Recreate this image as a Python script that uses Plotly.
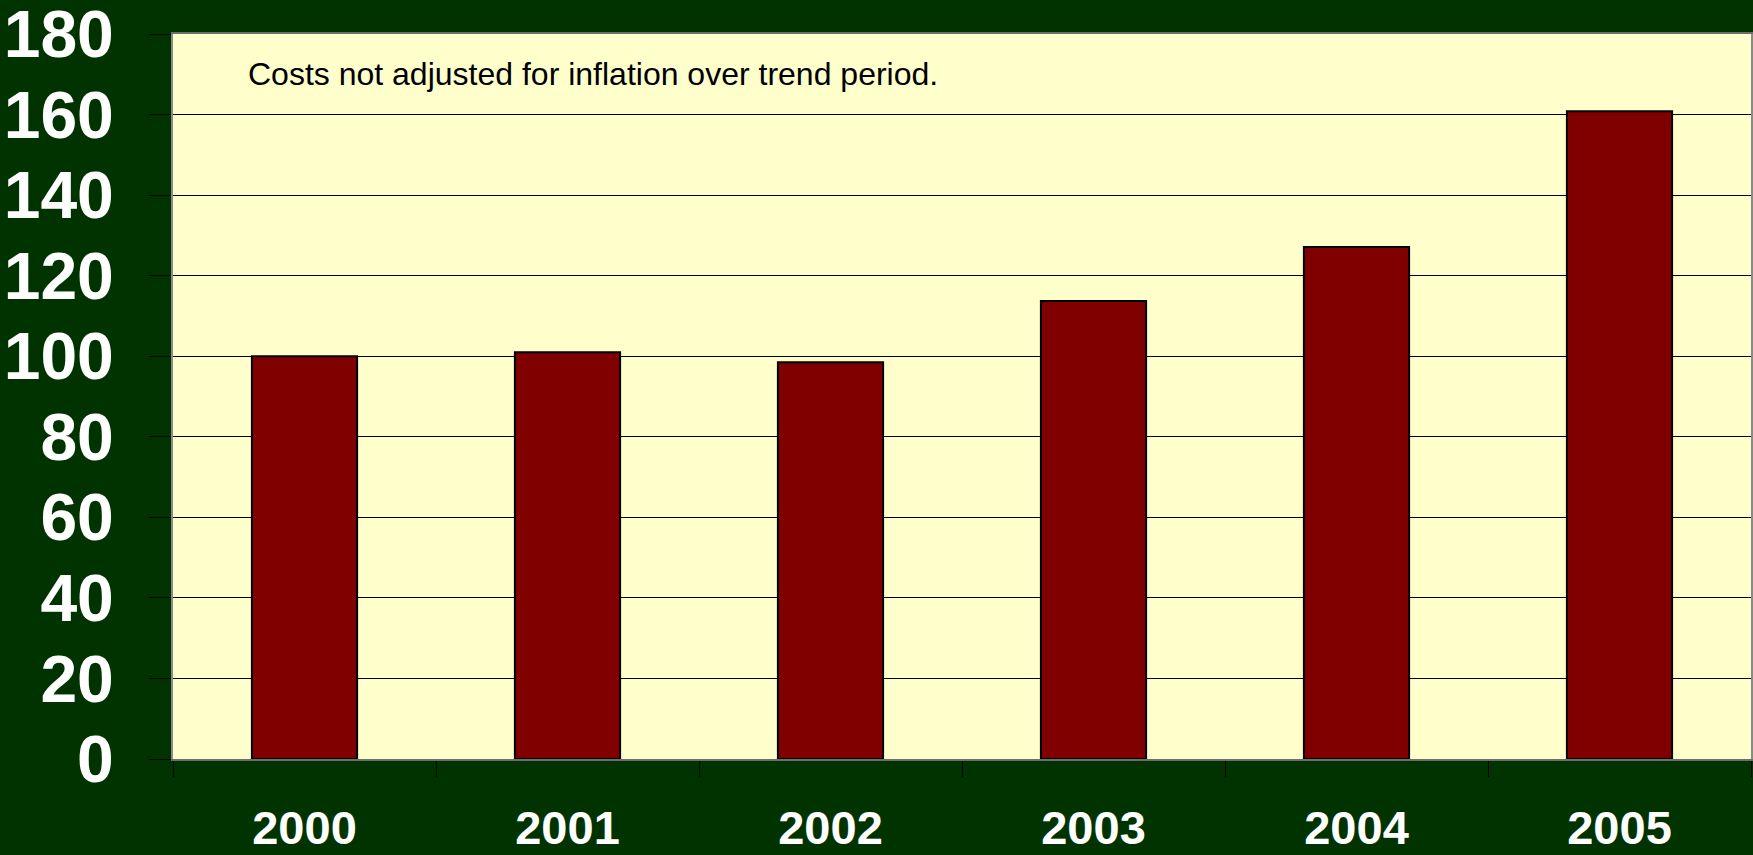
import plotly.graph_objects as go

years = ["2000", "2001", "2002", "2003", "2004", "2005"]
values = [100, 101, 98.5, 113.7, 127.1, 160.8]
y_ticks = [0, 20, 40, 60, 80, 100, 120, 140, 160, 180]
note = "Costs not adjusted for inflation over trend period."

fig = go.Figure()
fig.add_trace(go.Bar(
    x=years, y=values, width=0.4,
    marker=dict(color="#800000", line=dict(color="#000000", width=2)),
    hoverinfo="x+y",
))

fig.update_layout(
    width=1753, height=855,
    margin=dict(l=173, r=2, t=34, b=96),
    paper_bgcolor="#003300",
    plot_bgcolor="#FFFFCC",
    showlegend=False,
    font=dict(family="Liberation Sans, Arial, sans-serif"),
)
fig.update_xaxes(
    type="category",
    automargin=False,
    tickson="boundaries",
    ticks="outside", ticklen=16, tickwidth=1, tickcolor="#000000",
    tickfont=dict(size=47, color="white", family="Liberation Sans, Arial, sans-serif", weight="bold"),
    ticklabelstandoff=27,
    showline=True, linecolor="#6E6E6E", linewidth=2, mirror=True,
    showgrid=False,
)
fig.update_yaxes(
    range=[0, 180],
    automargin=False,
    tickvals=y_ticks,
    ticks="outside", ticklen=22, tickwidth=1, tickcolor="#000000",
    tickfont=dict(size=66, color="white", family="Liberation Sans, Arial, sans-serif", weight="bold"),
    ticklabelstandoff=22,
    ticklabeloverflow="allow",
    showline=True, linecolor="#8A8A8A", linewidth=2, mirror=True,
    showgrid=True, gridcolor="#000000", gridwidth=1,
    zeroline=False,
)
fig.add_annotation(
    xref="paper", yref="paper", x=0.046, y=0.945,
    xanchor="left", yanchor="middle",
    text=note, showarrow=False,
    font=dict(size=32, color="#000000", family="Liberation Sans, Arial, sans-serif"),
)
fig.write_html(
    "out.html",
    config={"displayModeBar": False},
    post_script="document.body.style.margin='0';document.body.style.background='#003300';",
)
